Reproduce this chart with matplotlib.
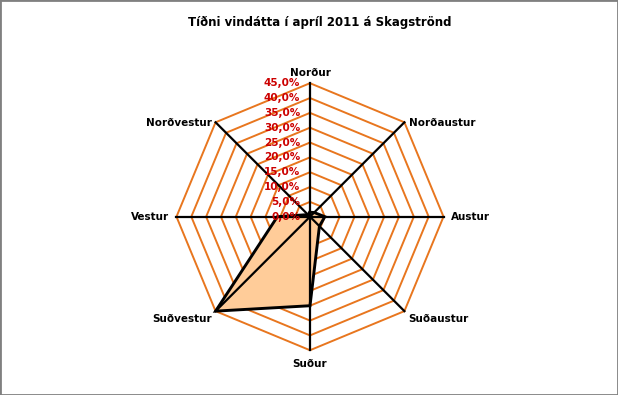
from matplotlib import pyplot as plt
from matplotlib.patches import Rectangle
import numpy as np

# wind direction frequency, April 2011, Skagaströnd
directions = ["Norður", "Norðaustur", "Austur", "Suðaustur",
              "Suður", "Suðvestur", "Vestur", "Norðvestur"]
freq = [1.5, 2.0, 5.0, 4.5, 30.0, 45.0, 11.0, 1.0]
ticks = [0, 5, 10, 15, 20, 25, 30, 35, 40, 45]
tick_labels = ["0,0%", "5,0%", "10,0%", "15,0%", "20,0%", "25,0%",
               "30,0%", "35,0%", "40,0%", "45,0%"]

RMAX = 45
GRID_COLOR = "#E8761E"
FILL_COLOR = "#FFCC99"
LABEL_RED = "#CC0000"

fig = plt.figure(figsize=(6.18, 3.95), dpi=100)
fig.patches.append(Rectangle((0, 0), 1, 1, transform=fig.transFigure,
                             fill=False, edgecolor="#808080", lw=2.0))

fig.text(0.518, 0.943, "Tíðni vindátta í apríl 2011 á Skagströnd",
         ha="center", va="center", fontsize=8.5, fontweight="bold")

ax = fig.add_axes([0.2375, 0.0382, 0.5282, 0.8263])
ax.set_xlim(-55, 55)
ax.set_ylim(-55, 55)
ax.set_aspect("equal")
ax.axis("off")

theta = np.arange(len(directions)) * 2 * np.pi / len(directions)
theta_c = np.append(theta, theta[0])


def to_xy(r, t):
    return np.asarray(r) * np.sin(t), np.asarray(r) * np.cos(t)


# octagon grid
for r in ticks[1:]:
    gx, gy = to_xy(np.full(len(theta_c), r), theta_c)
    ax.plot(gx, gy, color=GRID_COLOR, lw=1.4, zorder=1)

# data polygon
vals = np.append(freq, freq[0])
px, py = to_xy(vals, theta_c)
ax.fill(px, py, color=FILL_COLOR, zorder=2, lw=0)

# spokes
for t in theta:
    sx, sy = to_xy([0, RMAX], np.array([t, t]))
    ax.plot(sx, sy, color="black", lw=1.6, zorder=3)

ax.plot(px, py, color="black", lw=2.1, zorder=4, solid_joinstyle="miter")

# radial tick labels along north spoke
for r, lab in zip(ticks, tick_labels):
    ax.annotate(lab, (0, r), xytext=(-7, 0), textcoords="offset points",
                ha="right", va="center", fontsize=7.5, fontweight="bold",
                color=LABEL_RED, zorder=5)

# category labels
label_style = [
    ("center", "bottom", (0, 4)),
    ("left", "bottom", (3, -4)),
    ("left", "center", (5, 0)),
    ("left", "top", (3, -2)),
    ("center", "top", (0, -6)),
    ("right", "top", (-3, -2)),
    ("right", "center", (-5, 0)),
    ("right", "bottom", (-3, -4)),
]
for t, name, (ha, va, off) in zip(theta, directions, label_style):
    lx, ly = to_xy(RMAX, t)
    ax.annotate(name, (lx, ly), xytext=off, textcoords="offset points",
                ha=ha, va=va, fontsize=7.5, fontweight="bold", zorder=5)

fig.savefig("out.png", dpi=100)
